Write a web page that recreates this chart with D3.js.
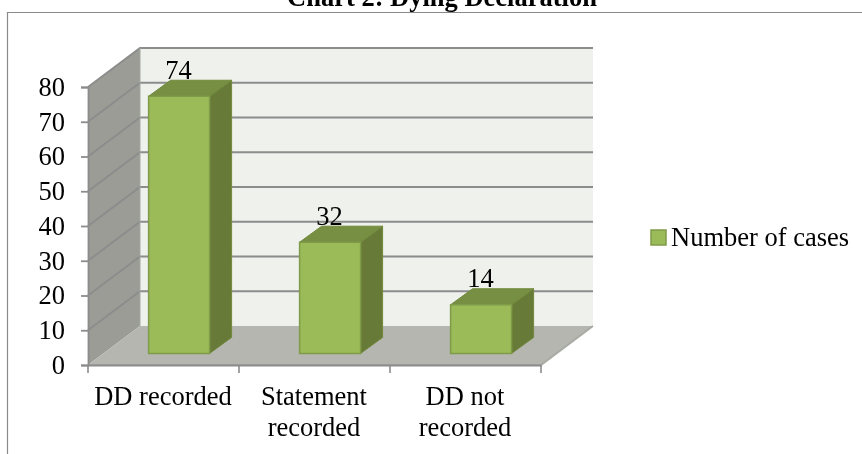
<!DOCTYPE html>
<html><head><meta charset="utf-8">
<script src="https://cdn.jsdelivr.net/npm/d3@7"></script>
<style>html,body{margin:0;padding:0;background:#fff}svg{display:block;font-family:"Liberation Serif",serif;filter:blur(0.4px)}</style>
</head><body><svg id="c" width="862" height="454"></svg>
<script>
const chartTitle = "Chart 2: Dying Declaration";
const seriesName = "Number of cases";
const categories = ["DD recorded", "Statement recorded", "DD not recorded"];
const categoryLines = [["DD recorded"], ["Statement", "recorded"], ["DD not", "recorded"]];
const values = [74, 32, 14];
const yTicks = [0, 10, 20, 30, 40, 50, 60, 70, 80];

const svg = d3.select("#c");
const y = d3.scaleLinear().domain([0, 80]).range([365, 87]);
const x = d3.scaleBand().domain(categories).range([88, 541]);
const depth = {dx: 52, dy: -39};
const barDepth = {dx: 22, dy: -16};
const barOffset = {dx: 60.6, dy: -11.6};
const barW = 61;
const axisC = "#8c8c8c";
const fontSize = 26.5;
const poly = (pts, fill, stroke, sw) => svg.append("polygon")
  .attr("points", pts.map(p => p.join(",")).join(" "))
  .attr("fill", fill).attr("stroke", stroke || "none").attr("stroke-width", sw || 0);

// chart frame
svg.append("path").attr("d", "M7.5,454V12.5H862").attr("fill", "none").attr("stroke", "#8a8a8a").attr("stroke-width", 1.2);
svg.append("text").attr("x", 442).attr("y", 6).attr("text-anchor", "middle")
  .attr("font-weight", "bold").attr("font-size", 26.5).attr("fill", "#000").text(chartTitle);

const x0 = x.range()[0], x1 = x.range()[1];
// back wall, side wall, floor
poly([[x0+depth.dx, y(80)+depth.dy], [x1+depth.dx, y(80)+depth.dy], [x1+depth.dx, y(0)+depth.dy], [x0+depth.dx, y(0)+depth.dy]], "#eff1ec");
poly([[x0, y(80)], [x0+depth.dx, y(80)+depth.dy], [x0+depth.dx, y(0)+depth.dy], [x0, y(0)]], "#9a9c95");
poly([[x0, y(0)], [x1, y(0)], [x1+depth.dx, y(0)+depth.dy], [x0+depth.dx, y(0)+depth.dy]], "#b4b6af");

// gridlines
yTicks.forEach(t => {
  const d = t === 0 ? `M${x0},${y(t)}H${x1}L${x1+depth.dx},${y(t)+depth.dy}`
                    : `M${x0},${y(t)}L${x0+depth.dx},${y(t)+depth.dy}H${x1+depth.dx}`;
  svg.append("path").attr("d", d).attr("fill", "none").attr("stroke", t === 0 ? "#a8aaa4" : axisC).attr("stroke-width", 1.8);
});
svg.append("line").attr("x1", x0+depth.dx).attr("x2", x0+depth.dx).attr("y1", y(80)+depth.dy).attr("y2", y(0)+depth.dy).attr("stroke", "#a6a89f").attr("stroke-width", 1);

// axes
const yAxis = svg.append("g").attr("transform", `translate(${x0},0)`)
  .call(d3.axisLeft(y).tickValues(yTicks).tickSize(7).tickPadding(16));
const xAxis = svg.append("g").attr("transform", `translate(0,${y(0)})`)
  .call(d3.axisBottom(x).tickValues([]).tickSize(0));
[...categories.map(c => x(c)), x1].forEach(px => {
  svg.append("line").attr("x1", px).attr("x2", px).attr("y1", y(0)).attr("y2", y(0)+8).attr("stroke", axisC).attr("stroke-width", 1.6);
});
yAxis.selectAll("line,path").attr("stroke", axisC).attr("stroke-width", 1.8);
xAxis.selectAll("path").attr("stroke", axisC).attr("stroke-width", 1.8);
yAxis.selectAll("text").attr("font-size", fontSize).attr("font-family", '"Liberation Serif",serif').attr("fill", "#000");

// category labels
categories.forEach((c, i) => {
  const t = svg.append("text").attr("text-anchor", "middle").attr("font-size", fontSize).attr("fill", "#000");
  categoryLines[i].forEach((line, k) => t.append("tspan")
    .attr("x", x(c) + x.bandwidth()/2 - 0.5).attr("y", 405 + k*30.5).text(line));
});

// bars
values.forEach((v, i) => {
  const c = categories[i];
  const l = x(c) + barOffset.dx, r = l + barW;
  const b = y(0) + barOffset.dy, t = b - (y(0) - y(v));
  const e = "#7f9a48";
  poly([[r, b], [r+barDepth.dx, b+barDepth.dy], [r+barDepth.dx, t+barDepth.dy], [r, t]], "#677a38", "#71893c", 1);
  poly([[l, t], [r, t], [r+barDepth.dx, t+barDepth.dy], [l+barDepth.dx, t+barDepth.dy]], "#768f42", "#71893c", 1);
  poly([[l, b], [r, b], [r, t], [l, t]], "#9bbb59", e, 1.5);
  svg.append("text").attr("x", l + 30).attr("y", t + barDepth.dy - 1.4).attr("text-anchor", "middle")
    .attr("font-size", fontSize).attr("fill", "#000").text(v);
});

// legend
svg.append("rect").attr("x", 651).attr("y", 230).attr("width", 15).attr("height", 15)
  .attr("fill", "#9bbb59").attr("stroke", "#7f9a48").attr("stroke-width", 1.5);
svg.append("text").attr("x", 671).attr("y", 246).attr("font-size", fontSize).attr("fill", "#000").text(seriesName);
</script></body></html>
